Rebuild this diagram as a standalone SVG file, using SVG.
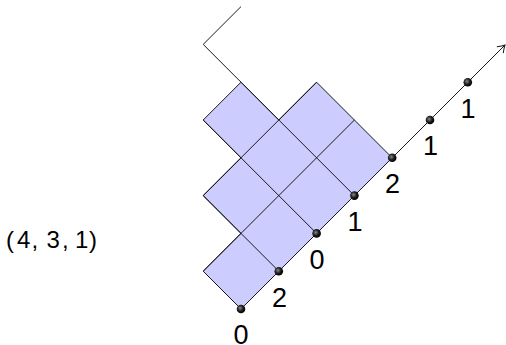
<svg xmlns="http://www.w3.org/2000/svg" width="506" height="345" viewBox="0 0 506 345">
<style>
.ln{fill:none;stroke:#1a1a1a;stroke-width:1}
.cell{fill:#ccccff;stroke:#1a1a1a;stroke-width:1;stroke-linejoin:miter}
.lab{font-family:"Liberation Sans","DejaVu Sans",sans-serif;font-size:27px;fill:#000;text-anchor:middle}
.tup{font-family:"Liberation Sans","DejaVu Sans",sans-serif;font-size:24px;fill:#000}
</style>
<defs>
<radialGradient id="ball" cx="0.4" cy="0.4" r="0.6">
<stop offset="0" stop-color="#8a8a8a"/>
<stop offset="0.55" stop-color="#202020"/>
<stop offset="1" stop-color="#000"/>
</radialGradient>
<marker id="arr" markerUnits="userSpaceOnUse" markerWidth="16" markerHeight="16" refX="0" refY="0" viewBox="-10 -8 12 16" orient="auto" overflow="visible">
<path d="M-7,-4.5 Q-2.5,-1.2 0,0 Q-2.5,1.2 -7,4.5" fill="none" stroke="#1a1a1a" stroke-width="1"/>
</marker>
</defs>
<g id="shape">
<polygon class="cell" points="241,309 392.2,157.8 316.6,82.2 278.8,120 241,82.2 203.2,120 241,157.8 203.2,195.6 241,233.4 203.2,271.2"/>
</g>
<g id="connectors">
<path class="ln" d="M278.8,271.2 L203.2,195.6 M316.6,233.4 L203.2,120 M354.4,195.6 L241,82.2 M203.2,271.2 L354.4,120 M203.2,195.6 L316.6,82.2"/>
<path class="ln" d="M241,82.2 L203.2,44.4 L241,6.6"/>
<path class="ln" d="M392.2,157.8 L505,45" marker-end="url(#arr)"/>
</g>
<g id="dots">
<circle cx="241" cy="309" r="4.3" fill="url(#ball)"/>
<circle cx="278.8" cy="271.2" r="4.3" fill="url(#ball)"/>
<circle cx="316.6" cy="233.4" r="4.3" fill="url(#ball)"/>
<circle cx="354.4" cy="195.6" r="4.3" fill="url(#ball)"/>
<circle cx="392.2" cy="157.8" r="4.3" fill="url(#ball)"/>
<circle cx="430" cy="120" r="4.3" fill="url(#ball)"/>
<circle cx="467.8" cy="82.2" r="4.3" fill="url(#ball)"/>
</g>
<g id="labels">
<text class="lab" x="241" y="343.5">0</text>
<text class="lab" x="279.5" y="306.5">2</text>
<text class="lab" x="317" y="268.7">0</text>
<text class="lab" x="355" y="230.9">1</text>
<text class="lab" x="392.5" y="193.1">2</text>
<text class="lab" x="430.5" y="155.3">1</text>
<text class="lab" x="468" y="117.5">1</text>
</g>
<g id="tuple">
<text class="tup" x="6 17 31.5 38 46.5 62 68 75 89" y="248">(4, 3, 1)</text>
</g>
</svg>
